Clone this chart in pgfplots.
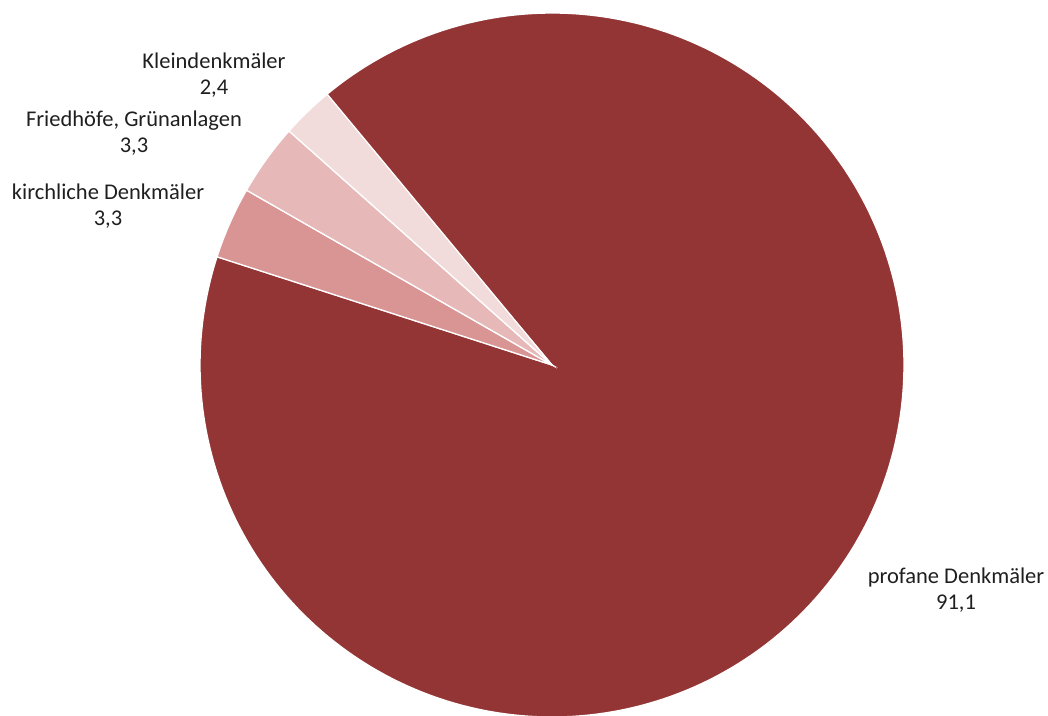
\documentclass[border=0pt]{standalone}
\usepackage{fontspec}
\setmainfont{Carlito}
\usepackage{pgfplots}
\pgfplotsset{compat=1.18}
\definecolor{cProf}{HTML}{943535}
\definecolor{cKirch}{HTML}{D99594}
\definecolor{cFried}{HTML}{E6B8B7}
\definecolor{cKlein}{HTML}{F2DCDB}
% data (percent)
\def\vKlein{2.4}
\def\vFried{3.3}
\def\vKirch{3.3}
\def\vProf{91.1}
\pgfmathsetmacro\aStart{129.7}
\pgfmathsetmacro\aA{\aStart+3.6*\vKlein}
\pgfmathsetmacro\aB{\aA+3.6*\vFried}
\pgfmathsetmacro\aC{\aB+3.6*\vKirch}
\pgfmathsetmacro\aD{\aC+3.6*\vProf}
\def\cx{552}
\def\cy{350}
\def\R{352}
\begin{document}
\begin{tikzpicture}
\begin{axis}[
  scale only axis, width=1048pt, height=715pt,
  xmin=0, xmax=1048, ymin=0, ymax=715,
  hide axis, clip=true,
]
\addplot[fill=cProf, draw=white, line width=1.3pt, domain=\aC:\aD, samples=240, variable=\t]
  ({\cx+\R*cos(\t)}, {\cy+\R*sin(\t)}) -- (axis cs:\cx,\cy) -- cycle;
\addplot[fill=cKirch, draw=white, line width=1.3pt, domain=\aB:\aC, samples=20, variable=\t]
  ({\cx+\R*cos(\t)}, {\cy+\R*sin(\t)}) -- (axis cs:\cx,\cy) -- cycle;
\addplot[fill=cFried, draw=white, line width=1.3pt, domain=\aA:\aB, samples=20, variable=\t]
  ({\cx+\R*cos(\t)}, {\cy+\R*sin(\t)}) -- (axis cs:\cx,\cy) -- cycle;
\addplot[fill=cKlein, draw=white, line width=1.3pt, domain=\aStart:\aA, samples=20, variable=\t]
  ({\cx+\R*cos(\t)}, {\cy+\R*sin(\t)}) -- (axis cs:\cx,\cy) -- cycle;
\begin{scope}[every node/.style={align=center, font=\fontsize{22.5}{26}\selectfont, text=black!88}]
\node at (axis cs:214,640) {Kleindenkmäler\\2,4};
\node at (axis cs:134,582) {Friedhöfe, Grünanlagen\\3,3};
\node at (axis cs:108,509) {kirchliche Denkmäler\\3,3};
\node at (axis cs:956,125) {profane Denkmäler\\91,1};
\end{scope}
\end{axis}
\path (current axis.south west) rectangle (current axis.north east);
\end{tikzpicture}
\end{document}
